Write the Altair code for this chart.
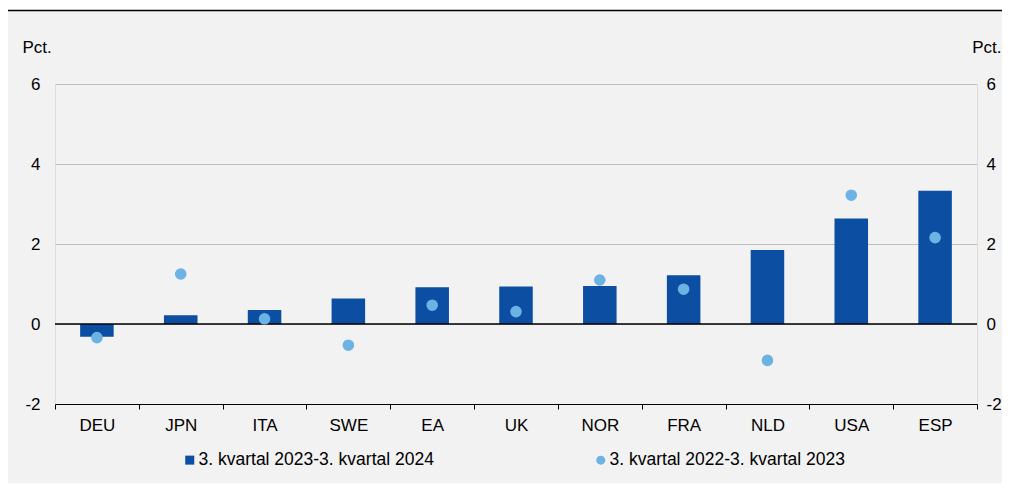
import altair as alt
import pandas as pd

countries = ["DEU", "JPN", "ITA", "SWE", "EA", "UK", "NOR", "FRA", "NLD", "USA", "ESP"]
bar_values = [-0.32, 0.22, 0.35, 0.64, 0.92, 0.94, 0.95, 1.22, 1.85, 2.64, 3.33]
dot_values = [-0.34, 1.25, 0.13, -0.53, 0.47, 0.31, 1.10, 0.87, -0.91, 3.22, 2.16]
series = ["3. kvartal 2023-3. kvartal 2024", "3. kvartal 2022-3. kvartal 2023"]
y_ticks = [-2, 0, 2, 4, 6]

BAR_COLOR = "#0b4ea2"
DOT_COLOR = "#6cb3e4"
FONT = "Liberation Sans"

rows = []
for c, b, d in zip(countries, bar_values, dot_values):
    rows.append({"country": c, "series": series[0], "value": b})
    rows.append({"country": c, "series": series[1], "value": d})
df = pd.DataFrame(rows)

base = alt.Chart(df)

x_enc = alt.X(
    "country:N",
    sort=countries,
    title=None,
    scale=alt.Scale(paddingInner=0, paddingOuter=0),
    axis=alt.Axis(
        labelAngle=0,
        labelFontSize=17,
        labelColor="#000000",
        labelFont=FONT,
        labelPadding=8,
        tickColor="#000000",
        tickSize=5,
        tickBand="extent",
        domainColor="#000000",
        domainWidth=1,
    ),
)

y_scale = alt.Scale(domain=[-2, 6], nice=False, zero=False)

legend_opts = dict(
    title=None,
    orient="none",
    direction="horizontal",
    legendX=126,
    legendY=367,
    columnPadding=158,
    labelFontSize=17.5,
    labelFont=FONT,
    labelColor="#000000",
    labelOffset=0,
    symbolSize=81,
    symbolStrokeWidth=0,
    padding=0,
    labelLimit=400,
)

color_enc = alt.Color(
    "series:N",
    scale=alt.Scale(domain=series, range=[BAR_COLOR, DOT_COLOR]),
    legend=alt.Legend(**legend_opts),
)
shape_enc = alt.Shape(
    "series:N",
    scale=alt.Scale(domain=series, range=["square", "circle"]),
    legend=alt.Legend(**legend_opts),
)

label_expr = "'' + datum.value"

bars = base.transform_filter(alt.datum.series == series[0]).mark_bar(
    color=BAR_COLOR, width=alt.RelativeBandSize(0.4)
).encode(
    x=x_enc,
    y=alt.Y(
        "value:Q",
        scale=y_scale,
        title="Pct.",
        axis=alt.Axis(
            values=y_ticks,
            labelExpr=label_expr,
            orient="left",
            grid=True,
            gridColor="#c0c0c0",
            gridWidth=1,
            ticks=False,
            domain=False,
            labelFontSize=17,
            labelFont=FONT,
            labelColor="#000000",
            labelPadding=15,
            titleAngle=0,
            titleAlign="left",
            titleBaseline="middle",
            titleX=-33,
            titleY=-37,
            titleFontSize=17,
            titleFont=FONT,
            titleFontWeight="normal",
            titleColor="#000000",
        ),
    ),
    color=color_enc,
)

zero = alt.Chart(alt.Data(values=[{}])).mark_rule(color="#000000", strokeWidth=1.3).encode(
    y=alt.datum(0, scale=y_scale, axis=None),
    x=alt.value(0),
    x2=alt.value(922),
)

points = base.transform_filter(alt.datum.series == series[1]).mark_point(
    filled=True, size=135, opacity=1, strokeWidth=0
).encode(
    x=x_enc,
    y=alt.Y(
        "value:Q",
        scale=y_scale,
        title="Pct.",
        axis=alt.Axis(
            values=y_ticks,
            labelExpr=label_expr,
            orient="right",
            grid=False,
            ticks=False,
            domain=False,
            labelFontSize=17,
            labelFont=FONT,
            labelColor="#000000",
            labelPadding=9,
            titleAngle=0,
            titleAlign="right",
            titleBaseline="middle",
            titleX=24,
            titleY=-37,
            titleFontSize=17,
            titleFont=FONT,
            titleFontWeight="normal",
            titleColor="#000000",
        ),
    ),
    color=color_enc,
    shape=shape_enc,
)

one = alt.Data(values=[{}])
top_white = alt.Chart(one).mark_rect(color="#ffffff").encode(
    x=alt.value(-47), x2=alt.value(947), y=alt.value(-76), y2=alt.value(-74)
)
top_line = alt.Chart(one).mark_rule(color="#000000", strokeWidth=1.3).encode(
    x=alt.value(-47), x2=alt.value(947), y=alt.value(-73.5)
)

chart = (
    alt.layer(top_white, top_line, bars, zero, points)
    .resolve_scale(y="independent")
    .properties(
        width=922,
        height=320,
        autosize=alt.AutoSizeParams(type="none"),
        padding={"left": 47, "top": 76, "right": 25, "bottom": 79},
        background="#f2f2f2",
    )
    .configure_view(stroke=None)
    .configure(font=FONT)
)

chart.save("out.html", embed_options={"renderer": "svg", "actions": False})
